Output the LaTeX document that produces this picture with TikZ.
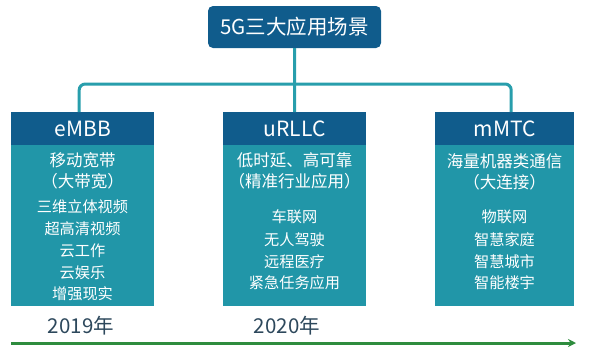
\documentclass[tikz,border=0pt]{standalone}
\usepackage{fontspec}
\setmainfont{Noto Sans CJK SC}
\usetikzlibrary{arrows.meta}
\definecolor{hdr}{RGB}{16,92,140}
\definecolor{bodyc}{RGB}{33,150,168}
\definecolor{connc}{RGB}{40,158,172}
\definecolor{yeartxt}{RGB}{45,72,92}
\definecolor{grn}{RGB}{46,140,62}
\begin{document}
\begin{tikzpicture}[x=1pt,y=-1pt,
  titlebox/.style={fill=hdr, rounded corners=5pt, minimum width=173pt, minimum height=42pt, inner sep=0pt, text=white, font=\fontsize{20.5}{20.5}\selectfont},
  hdrbox/.style={fill=hdr, minimum width=143pt, minimum height=33pt, inner sep=0pt, anchor=north west, text=white, font=\fontsize{21}{21}\selectfont},
  bodybox/.style={fill=bodyc, minimum width=143pt, minimum height=161pt, inner sep=0pt, anchor=north west},
  subtxt/.style={text=white, inner sep=0pt, font=\fontsize{16.5}{16.5}\selectfont},
  itemtxt/.style={text=white, inner sep=0pt, font=\fontsize{15.2}{15.2}\selectfont},
  yeartext/.style={text=yeartxt, inner sep=0pt, font=\fontsize{20.5}{20.5}\selectfont},
  connline/.style={draw=connc, line width=3pt},
  timeline/.style={draw=grn, line width=3pt, -{Stealth[length=8pt,width=8pt]}}
]
\useasboundingbox (0,0) rectangle (597,349);

% boxes
\node[hdrbox] (ehdr) at (11,112) {eMBB};
\node[bodybox] (ebody) at (11,145) {};
\node[hdrbox] (uhdr) at (223,112) {uRLLC};
\node[bodybox] (ubody) at (223,145) {};
\node[hdrbox, minimum width=139pt] (mhdr) at (435,112) {mMTC};
\node[bodybox, minimum width=139pt] (mbody) at (435,145) {};

% title
\node[titlebox] (title) at (294.5,27) {5G三大应用场景};

% connectors
\coordinate (bus) at (295,84);
\draw[connline] (title.south) -- (uhdr.north);
\draw[connline, rounded corners=6pt] ([xshift=-3.5pt]ehdr.north) |- (bus) -| ([xshift=6.5pt]mhdr.north);

% eMBB text
\node[subtxt] (e1) at (82.5,160) {移动宽带};
\node[subtxt] (e2) at (82.5,181) {（大带宽）};
\node[itemtxt] (e3) at (82.5,207) {三维立体视频};
\node[itemtxt] (e4) at (82.5,229) {超高清视频};
\node[itemtxt] (e5) at (82.5,251) {云工作};
\node[itemtxt] (e6) at (82.5,273) {云娱乐};
\node[itemtxt] (e7) at (82.5,294) {增强现实};

% uRLLC text
\node[subtxt] (u1) at (294.5,160) {低时延、高可靠};
\node[subtxt] (u2) at (294.5,181) {（精准行业应用）};
\node[itemtxt] (u3) at (294.5,217) {车联网};
\node[itemtxt] (u4) at (294.5,240) {无人驾驶};
\node[itemtxt] (u5) at (294.5,262) {远程医疗};
\node[itemtxt] (u6) at (294.5,283) {紧急任务应用};

% mMTC text
\node[subtxt] (m1) at (504.5,161) {海量机器类通信};
\node[subtxt] (m2) at (504.5,182) {（大连接）};
\node[itemtxt] (m3) at (504.5,217) {物联网};
\node[itemtxt] (m4) at (504.5,240) {智慧家庭};
\node[itemtxt] (m5) at (504.5,262) {智慧城市};
\node[itemtxt] (m6) at (504.5,283) {智能楼宇};

% years and timeline
\node[yeartext] (y1) at (81,326) {2019年};
\node[yeartext] (y2) at (287,326) {2020年};
\coordinate (tstart) at (11,343);
\coordinate (tend) at (576,343);
\draw[timeline] (tstart) -- (tend);
\end{tikzpicture}
\end{document}
